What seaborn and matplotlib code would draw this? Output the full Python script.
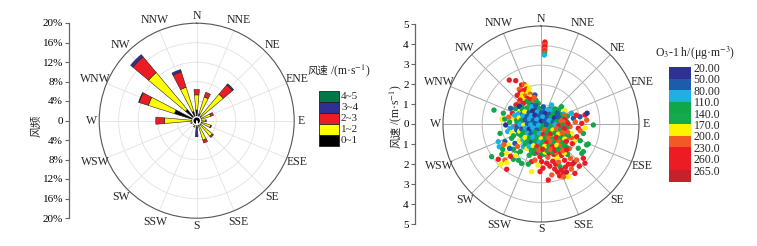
import numpy as np
import pandas as pd
import seaborn as sns
import matplotlib.pyplot as plt
from matplotlib.colors import ListedColormap, BoundaryNorm
from matplotlib.patches import Rectangle
import matplotlib.cm as cm

sns.set_theme(style='white')
plt.rcParams['font.family'] = ['Liberation Serif', 'DejaVu Sans']
plt.rcParams['mathtext.fontset'] = 'stix'
cjk = ['Noto Sans CJK SC', 'Noto Sans CJK JP', 'DejaVu Sans']

# ---- wind rose data (frequency %, per direction) ----
dirs = ['N', 'NNE', 'NE', 'ENE', 'E', 'ESE', 'SE', 'SSE',
        'S', 'SSW', 'SW', 'WSW', 'W', 'WNW', 'NW', 'NNW']
spd_bins = ['0~1', '1~2', '2~3', '3~4', '4~5']
spd_colors = ['#000000', '#FFFF00', '#ED1C24', '#2E3192', '#00784A']
f_0_1 = [2.2, 1.5, 1.2, 1.0, 1.0, 1.0, 1.0, 1.0, 1.0, 0.8, 0.7, 0.8, 1.0, 4.8, 3.0, 2.0]
f_1_2 = [3.1, 3.6, 5.9, 2.0, 0.8, 2.0, 3.2, 3.2, 0.3, 0.6, 0.3, 0.5, 5.6, 5.6, 9.9, 5.2]
f_2_3 = [1.1, 1.0, 2.5, 0.6, 0.2, 0.2, 0.3, 0.6, 0.2, 0.0, 0.0, 0.0, 1.8, 2.0, 4.2, 3.3]
f_3_4 = [0.0, 0.0, 0.3, 0.0, 0.0, 0.0, 0.0, 0.0, 1.8, 0.0, 0.0, 0.0, 0.0, 0.1, 0.6, 0.5]
f_4_5 = [0.0] * 16
calm = 0.8

# ---- O3 scatter data: (u east, v north) in m/s, O3 in ug/m3 ----
north_spike = [(0.20, 4.18, 245), (0.20, 4.10, 245), (0.20, 4.02, 215), (0.19, 3.95, 245),
               (0.19, 3.87, 245), (0.19, 3.80, 215), (0.18, 3.72, 245), (0.18, 3.64, 215),
               (0.18, 3.57, 125), (0.17, 3.52, 95)]
nw_arm = [(-1.62, 2.24, 245), (-1.29, 2.21, 245), (-0.99, 1.99, 245), (-0.85, 2.02, 215),
          (-0.73, 1.92, 185), (-1.11, 1.77, 215), (-0.90, 1.70, 245), (-0.75, 1.78, 245),
          (-0.60, 1.80, 185), (-0.65, 1.62, 185), (-1.05, 1.60, 245), (-0.95, 1.52, 185),
          (-0.55, 1.52, 215), (-1.21, 1.46, 245), (-0.82, 1.43, 215), (-1.00, 1.35, 185),
          (-0.56, 1.38, 185), (-0.31, 1.48, 65), (-0.70, 1.30, 245), (-0.85, 1.20, 185),
          (-1.07, 1.22, 245), (-0.73, 1.15, 125), (-0.50, 1.25, 245), (-0.39, 1.14, 215),
          (-1.15, 1.05, 215), (-0.90, 1.05, 245), (-0.60, 1.05, 155), (-0.14, 1.05, 125),
          (-1.28, 0.97, 245), (-0.99, 0.88, 125), (-0.45, 0.95, 65), (-0.25, 1.20, 155),
          (-0.35, 1.35, 215)]
west = [(-2.40, 0.71, 125), (-1.92, 0.55, 155), (-2.00, 0.24, 185), (-1.46, 0.55, 245),
        (-1.41, 0.29, 185), (-1.24, 0.20, 125), (-1.16, 0.37, 245), (-1.41, -0.14, 95),
        (-1.58, -0.22, 95), (-1.24, -0.31, 65), (-2.09, -0.48, 125), (-1.80, -0.05, 35),
        (-1.60, 0.10, 155), (-1.70, -0.38, 95), (-1.50, -0.45, 185), (-1.30, -0.10, 215),
        (-1.20, 0.02, 95), (-1.05, 0.62, 185), (-1.30, 0.78, 125), (-1.55, 0.80, 65),
        (-1.10, 0.90, 35), (-1.85, 0.25, 125), (-1.35, 0.45, 95), (-1.10, 0.45, 155),
        (-1.65, 0.35, 215), (-1.15, -0.50, 125), (-1.40, -0.60, 155)]
southwest = [(-2.18, -0.90, 95), (-2.13, -1.16, 95), (-1.84, -0.90, 65), (-1.67, -1.07, 185),
             (-1.50, -0.73, 125), (-1.33, -0.99, 65), (-1.41, -1.29, 125), (-1.75, -1.50, 185),
             (-1.24, -1.50, 155), (-2.52, -1.67, 125), (-2.18, -1.80, 245), (-1.84, -1.84, 215),
             (-1.75, -1.97, 185), (-1.41, -1.80, 125), (-0.99, -2.01, 125), (-1.75, -2.31, 245),
             (-0.90, -1.16, 95), (-1.95, -1.30, 155), (-1.60, -1.25, 65), (-1.10, -0.85, 185),
             (-1.20, -1.15, 215), (-1.55, -1.65, 245), (-1.30, -1.60, 185), (-1.05, -1.40, 125),
             (-2.00, -1.55, 125), (-1.90, -1.05, 215), (-2.05, -2.05, 185), (-1.15, -1.85, 155)]
south = [(-0.48, -1.92, 245), (-0.48, -2.43, 185), (-0.05, -1.67, 245), (0.03, -1.92, 245),
         (-0.31, -1.50, 125), (-0.39, -1.16, 245), (-0.31, -1.84, 215), (0.29, -2.00, 245),
         (-0.05, -2.43, 245), (0.37, -2.86, 245), (-0.15, -2.10, 185), (0.15, -1.55, 125),
         (-0.60, -1.60, 155), (0.35, -1.70, 215), (-0.20, -1.45, 95), (0.10, -2.25, 245),
         (-0.65, -2.05, 125)]
southeast = [(0.60, -1.90, 245), (0.75, -2.05, 245), (0.90, -1.95, 215), (0.97, -2.18, 125),
             (1.14, -2.52, 245), (1.05, -2.35, 245), (1.25, -2.20, 245), (1.40, -2.05, 245),
             (1.55, -2.30, 215), (1.73, -2.52, 245), (1.39, -2.69, 185), (0.85, -2.45, 245),
             (0.70, -2.30, 245), (0.55, -2.60, 215), (1.20, -1.85, 245), (1.50, -1.75, 215),
             (1.30, -2.45, 275), (0.95, -2.65, 245), (1.60, -2.05, 245), (0.80, -1.70, 185),
             (1.05, -1.60, 245), (1.35, -1.55, 125), (0.65, -1.55, 245), (1.15, -2.70, 215),
             (0.45, -2.15, 245), (1.70, -1.95, 275)]
east_south = [(2.08, -1.50, 125), (2.33, -1.07, 125), (1.90, -1.24, 155), (2.16, -1.75, 245),
              (1.82, -1.84, 215), (2.24, -2.00, 245), (1.05, -1.24, 185), (1.60, -1.00, 245),
              (1.75, -0.80, 185), (2.00, -0.85, 125), (2.41, -1.02, 125), (2.16, -1.41, 125),
              (1.45, -1.25, 215), (1.95, -2.15, 245), (1.55, -0.70, 215)]
east = [(1.05, 0.88, 125), (0.54, 0.97, 95), (1.22, 0.68, 185), (1.99, 0.37, 65),
        (2.24, 0.46, 245), (2.33, 0.20, 215), (2.08, 0.03, 245), (2.67, -0.05, 125),
        (1.90, -0.22, 245), (1.65, 0.29, 65), (1.48, -0.14, 215), (2.16, -0.48, 125),
        (1.82, -0.65, 245), (1.56, -0.48, 185), (1.31, 0.12, 125), (0.97, 0.29, 65),
        (1.35, 0.40, 155), (1.55, 0.55, 95), (1.75, 0.10, 215), (2.35, 0.55, 35),
        (1.25, -0.35, 245), (1.40, -0.60, 125), (2.00, -0.35, 215), (1.15, 0.50, 95),
        (1.80, 0.45, 245), (2.25, -0.20, 185)]
core = [(-0.72, 0.82, 155), (-0.48, 0.88, 95), (-0.27, 0.93, 65), (-0.08, 0.78, 125),
        (0.12, 0.87, 65), (0.33, 0.73, 95), (0.52, 0.68, 95), (0.71, 0.77, 125),
        (-0.83, 0.62, 185), (-0.61, 0.57, 65), (-0.42, 0.66, 35), (-0.19, 0.61, 95),
        (0.02, 0.58, 65), (0.21, 0.53, 35), (0.43, 0.49, 65), (0.62, 0.52, 125), (0.83, 0.56, 65),
        (-0.92, 0.41, 95), (-0.71, 0.38, 65), (-0.49, 0.43, 95), (-0.31, 0.45, 35),
        (-0.11, 0.38, 65), (0.09, 0.36, 95), (0.31, 0.28, 65), (0.52, 0.34, 155),
        (0.69, 0.31, 35), (0.88, 0.37, 65),
        (-1.02, 0.18, 125), (-0.81, 0.22, 65), (-0.58, 0.26, 95), (-0.39, 0.19, 65),
        (-0.21, 0.22, 95), (0.01, 0.14, 35), (0.19, 0.11, 65), (0.41, 0.17, 95),
        (0.62, 0.09, 65), (0.79, 0.12, 125), (1.02, 0.16, 215),
        (-1.08, -0.02, 95), (-0.88, -0.06, 185), (-0.69, 0.01, 65), (-0.52, -0.04, 95),
        (-0.29, 0.02, 65), (-0.12, -0.06, 95), (0.11, -0.09, 125), (0.29, -0.04, 65),
        (0.51, -0.11, 155), (0.72, -0.03, 95), (0.91, -0.09, 245), (1.12, -0.06, 125),
        (-0.98, -0.26, 65), (-0.79, -0.21, 95), (-0.61, -0.27, 35), (-0.42, -0.19, 95),
        (-0.21, -0.31, 65), (0.02, -0.24, 125), (0.19, -0.29, 215), (0.42, -0.26, 155),
        (0.61, -0.31, 185), (0.79, -0.24, 215), (1.01, -0.29, 125), (1.19, -0.23, 245),
        (-0.91, -0.44, 125), (-0.69, -0.47, 95), (-0.51, -0.51, 65), (-0.29, -0.43, 125),
        (-0.09, -0.49, 95), (0.12, -0.52, 245), (0.31, -0.44, 155), (0.49, -0.51, 245),
        (0.71, -0.46, 125), (0.89, -0.52, 185), (1.09, -0.44, 215),
        (-0.81, -0.69, 185), (-0.59, -0.72, 125), (-0.41, -0.66, 95), (-0.19, -0.71, 155),
        (0.01, -0.76, 185), (0.22, -0.69, 125), (0.39, -0.72, 215), (0.61, -0.76, 155),
        (0.79, -0.68, 245), (1.01, -0.71, 125), (1.21, -0.77, 185),
        (-0.71, -0.91, 155), (-0.49, -0.96, 65), (-0.31, -0.89, 125), (-0.09, -0.94, 95),
        (0.11, -0.91, 155), (0.29, -0.96, 245), (0.51, -0.89, 215), (0.69, -0.94, 125),
        (0.91, -0.91, 215), (1.11, -0.96, 155), (1.29, -0.89, 245),
        (-0.61, -1.14, 95), (-0.39, -1.11, 185), (-0.21, -1.16, 245), (0.02, -1.09, 125),
        (0.19, -1.14, 185), (0.41, -1.11, 155), (0.59, -1.16, 245), (0.81, -1.09, 185),
        (1.01, -1.14, 215), (1.19, -1.11, 125),
        (-0.49, -1.36, 155), (-0.29, -1.31, 125), (-0.11, -1.34, 215), (0.09, -1.29, 245),
        (0.31, -1.36, 125), (0.49, -1.31, 215), (0.71, -1.34, 245), (0.89, -1.29, 125),
        (1.11, -1.36, 215), (1.31, -1.31, 245)]
core_fill = [(-0.95, 0.74, 125), (-0.62, 0.71, 95), (-0.38, 0.76, 65), (-0.18, 0.70, 35),
             (0.03, 0.73, 95), (0.24, 0.68, 65), (0.43, 0.75, 125), (0.62, 0.70, 65),
             (0.90, 0.72, 155),
             (-1.15, 0.52, 95), (-0.93, 0.49, 65), (-0.71, 0.53, 125), (-0.52, 0.48, 35),
             (-0.29, 0.54, 65), (-0.09, 0.49, 95), (0.12, 0.45, 35), (0.33, 0.52, 95),
             (0.53, 0.47, 65), (0.72, 0.44, 95), (0.98, 0.49, 125), (1.18, 0.42, 215),
             (-1.12, 0.31, 185), (-0.82, 0.29, 95), (-0.61, 0.33, 35), (-0.41, 0.28, 95),
             (-0.19, 0.32, 65), (0.01, 0.27, 65), (0.22, 0.31, 35), (0.43, 0.26, 65),
             (0.61, 0.29, 95), (0.81, 0.24, 65), (1.08, 0.31, 125), (1.21, 0.22, 245),
             (-1.22, 0.09, 125), (-0.92, 0.11, 65), (-0.71, 0.07, 95), (-0.49, 0.12, 35),
             (-0.31, 0.08, 95), (-0.11, 0.12, 65), (0.09, 0.06, 95), (0.31, 0.11, 35),
             (0.52, 0.05, 125), (0.71, 0.11, 65), (0.91, 0.07, 155), (1.15, 0.09, 215),
             (1.38, 0.02, 245),
             (-1.21, -0.14, 65), (-0.99, -0.11, 125), (-0.79, -0.15, 65), (-0.59, -0.12, 95),
             (-0.41, -0.09, 35), (-0.19, -0.16, 95), (0.01, -0.12, 65), (0.19, -0.17, 155),
             (0.41, -0.12, 95), (0.62, -0.16, 125), (0.83, -0.11, 215), (1.02, -0.15, 155),
             (1.31, -0.19, 125),
             (-1.09, -0.37, 185), (-0.89, -0.34, 95), (-0.71, -0.38, 65), (-0.52, -0.33, 125),
             (-0.31, -0.37, 95), (-0.11, -0.35, 155), (0.09, -0.39, 185), (0.29, -0.34, 245),
             (0.52, -0.38, 125), (0.71, -0.35, 245), (0.91, -0.37, 155), (1.11, -0.33, 185),
             (1.35, -0.42, 215),
             (-1.01, -0.59, 125), (-0.79, -0.56, 215), (-0.61, -0.61, 95), (-0.41, -0.56, 155),
             (-0.21, -0.59, 125), (0.01, -0.61, 215), (0.21, -0.57, 125), (0.41, -0.62, 245),
             (0.61, -0.58, 185), (0.81, -0.61, 125), (1.02, -0.56, 245), (1.22, -0.61, 155),
             (-0.92, -0.81, 95), (-0.71, -0.79, 185), (-0.51, -0.83, 125), (-0.29, -0.78, 215),
             (-0.09, -0.82, 125), (0.11, -0.79, 245), (0.31, -0.84, 155), (0.51, -0.79, 125),
             (0.71, -0.83, 215), (0.91, -0.78, 245), (1.11, -0.81, 125), (1.31, -0.79, 215),
             (-0.81, -1.03, 125), (-0.61, -0.99, 245), (-0.39, -1.04, 155), (-0.19, -0.99, 125),
             (0.01, -1.03, 245), (0.21, -1.01, 125), (0.39, -1.04, 185), (0.61, -0.99, 125),
             (0.79, -1.03, 245), (1.01, -0.99, 125), (1.21, -1.04, 185),
             (-0.71, -1.25, 185), (-0.49, -1.22, 125), (-0.29, -1.26, 95), (-0.09, -1.21, 185),
             (0.11, -1.26, 215), (0.29, -1.22, 125), (0.51, -1.25, 245), (0.69, -1.21, 125),
             (0.91, -1.26, 215), (1.09, -1.22, 245), (1.29, -1.17, 125),
             (-0.39, -1.48, 125), (-0.19, -1.44, 245), (0.01, -1.47, 125), (0.21, -1.43, 185),
             (0.41, -1.48, 245), (0.59, -1.44, 125), (0.79, -1.47, 215), (0.99, -1.43, 245),
             (1.19, -1.48, 185)]

o3_bounds = [20, 50, 80, 110, 140, 170, 200, 230, 260, 265, 290]
o3_labels = ['20.00', '50.00', '80.00', '110.0', '140.0', '170.0', '200.0', '230.0', '260.0', '265.0']
o3_colors = ['#2E3192', '#1C5CAB', '#1DB0E2', '#10A64A', '#16A84C',
             '#FFF200', '#F15A24', '#ED1C24', '#EC1C24', '#C4212A']

W, H = 757, 246
fig = plt.figure(figsize=(W / 100, H / 100), dpi=100)
theta = np.deg2rad(np.arange(16) * 22.5)


def setup_polar(ax, rmax, rings, ring_col, spoke_col, lw):
    ax.set_theta_zero_location('N')
    ax.set_theta_direction(-1)
    ax.set_ylim(0, rmax)
    ax.set_yticks(rings)
    ax.set_yticklabels([])
    ax.set_xticks(theta)
    ax.set_xticklabels([])
    ax.yaxis.grid(True, color=ring_col, lw=lw)
    ax.xaxis.grid(True, color=spoke_col, lw=lw)
    ax.spines['polar'].set_color('#555555')
    ax.spines['polar'].set_linewidth(0.8)
    ax.set_xlabel('')
    ax.set_ylabel('')
    for d, t in zip(dirs, theta):
        k = {1: 1.075, 2: 1.10, 3: 1.12}[len(d)]
        ax.text(t, rmax * k, d, ha='center', va='center', fontsize=8.5, clip_on=False)


def side_axis(x, y_top, y_bot, lim, ticks, labels):
    a = fig.add_axes([x / W, 1 - y_bot / H, 0.0001, (y_bot - y_top) / H])
    a.patch.set_visible(False)
    a.set_ylim(-lim, lim)
    a.set_yticks(ticks)
    a.set_yticklabels(labels)
    a.set_xticks([])
    for s in ['top', 'right', 'bottom']:
        a.spines[s].set_visible(False)
    a.spines['left'].set_color('#666666')
    a.spines['left'].set_linewidth(0.9)
    a.tick_params(axis='y', direction='out', length=3, width=0.8, colors='#666666',
                  labelcolor='black', labelsize=8, pad=1.5, left=True)
    return a


def speed_label(x, y_zh, y_unit, rot, size_zh, size_unit):
    # Chinese part and unit part drawn as two texts so each keeps its own font
    if rot:
        fig.text(x / W, 1 - y_zh / H, '风速', rotation=90, ha='center', va='bottom',
                 fontsize=size_zh, family=cjk)
        fig.text(x / W, 1 - y_unit / H, '/(m·s$^{-1}$)', rotation=90, ha='center',
                 va='bottom', fontsize=size_unit)
    else:
        fig.text(x / W, 1 - y_zh / H, '风速', ha='right', va='center', fontsize=size_zh, family=cjk)
        fig.text(y_unit / W, 1 - y_zh / H, '/(m·s$^{-1}$)', ha='left', va='center',
                 fontsize=size_unit)


# ---------------- left: wind rose ----------------
axw = fig.add_axes([(196.7 - 97.5) / W, (125.3 - 97.5) / H, 195 / W, 195 / H], projection='polar')
setup_polar(axw, 20, [4, 8, 12, 16], '#E2E2E2', '#E2E2E2', 0.6)
bottom = np.zeros(16)
for vals, col in zip([f_0_1, f_1_2, f_2_3, f_3_4, f_4_5], spd_colors):
    vals = np.array(vals)
    m = vals > 0
    if m.any():
        axw.bar(theta[m], vals[m], width=np.deg2rad(10), bottom=bottom[m], color=col,
                edgecolor='#222222', linewidth=0.4, zorder=3)
    bottom += vals
axw.bar(0, calm, width=2 * np.pi, color='black', zorder=4)
axw.set_ylim(0, 20)

t1 = np.arange(-20, 21, 4)
side_axis(69.3, 23, 218, 20, t1, [f'{abs(t)}%' if t else '0' for t in t1])
fig.text(36 / W, 1 - 125.5 / H, '风频', rotation=90, ha='center', va='center',
         fontsize=8, family=cjk)

# legend for speed bins
speed_label(328, 71, 330, False, 7.5, 8.5)
lh = 11.07
for i, (lab, col) in enumerate(zip(spd_bins[::-1], spd_colors[::-1])):
    yt = 90.7 + i * lh
    fig.patches.append(Rectangle((319 / W, 1 - (yt + lh) / H), 20 / W, lh / H,
                                 transform=fig.transFigure, facecolor=col,
                                 edgecolor='#222222', linewidth=0.6))
    fig.text(341 / W, 1 - (yt + lh / 2) / H, lab, ha='left', va='center', fontsize=8)

# ---------------- right: O3 polar scatter ----------------
pts = north_spike + nw_arm + west + southwest + south + southeast + east_south + east + core_fill + core
df = pd.DataFrame(pts, columns=['u', 'v', 'o3'])
df['wd'] = np.arctan2(df['u'], df['v'])
df['ws'] = np.hypot(df['u'], df['v'])
df['seg'] = np.digitize(df['o3'], o3_bounds[1:-1])

axs = fig.add_axes([(541 - 98) / W, (122 - 98) / H, 196 / W, 196 / H], projection='polar')
sns.scatterplot(data=df, x='wd', y='ws', hue='seg', palette=dict(enumerate(o3_colors)),
                s=15, linewidth=0, legend=False, ax=axs, zorder=3)
setup_polar(axs, 5, [1, 2, 3, 4], '#BDBDBD', '#A8A8A8', 0.7)

t2 = np.arange(-5, 6, 1)
side_axis(415, 24, 224, 5, t2, [str(abs(t)) for t in t2])
speed_label(396, 148, 125, True, 8, 8.5)

# colorbar
cmap = ListedColormap(o3_colors)
norm = BoundaryNorm(o3_bounds, cmap.N)
cax = fig.add_axes([669.3 / W, 1 - 181.7 / H, 21.4 / W, 114.4 / H])
cb = fig.colorbar(cm.ScalarMappable(norm=norm, cmap=cmap), cax=cax, ticks=o3_bounds[:-1])
cb.ax.invert_yaxis()
cb.ax.minorticks_off()
cb.ax.set_yticklabels(o3_labels)
cb.ax.tick_params(which='both', length=0, labelsize=8.5, pad=2)
cb.outline.set_visible(False)
fig.text(695 / W, 1 - 53 / H, 'O$_3$-1 h/(μg·m$^{-3}$)', ha='center', va='center', fontsize=8.5)

fig.savefig('out.png', dpi=100, facecolor='white')
